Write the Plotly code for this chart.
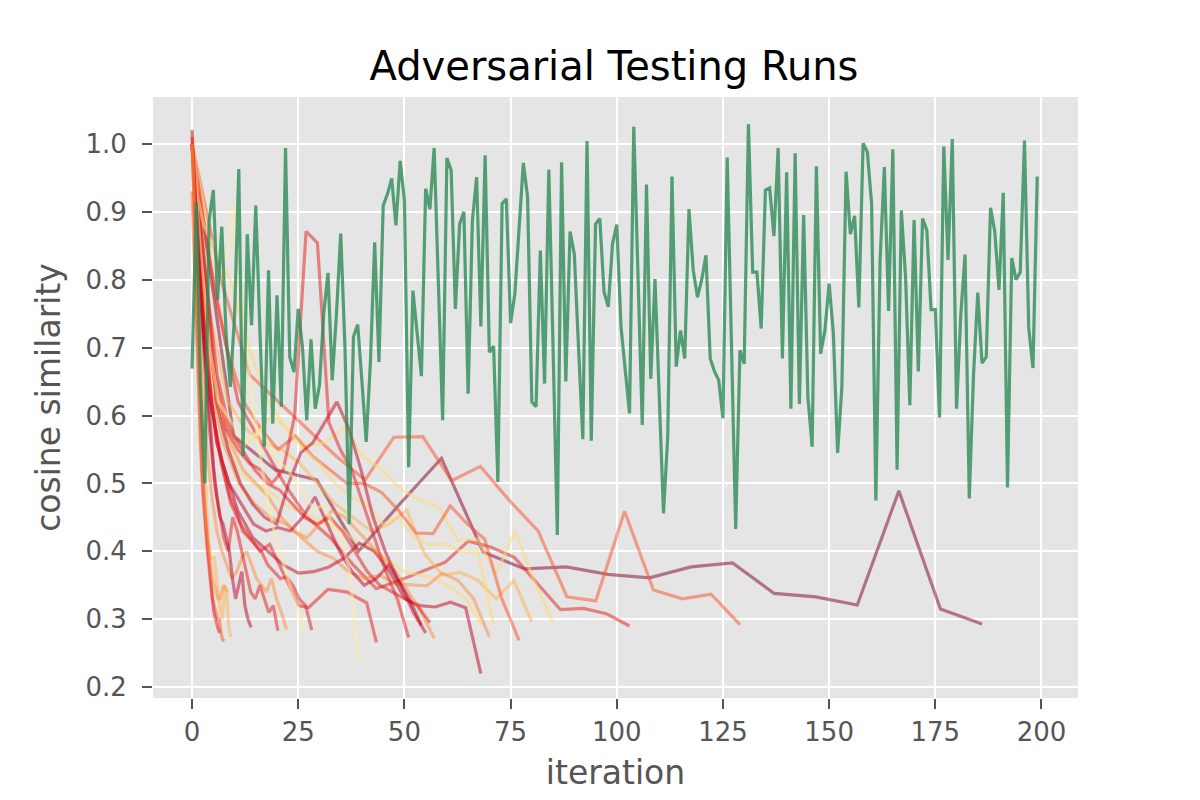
import numpy as np
import plotly.graph_objects as go

# --- Daten ---------------------------------------------------------------
# normale Testreihe (eine Messung je Iteration)
normal_iters = list(range(200))
normal_sim = [
    0.669, 0.914, 0.64, 0.50, 0.887, 0.932, 0.77, 0.878, 0.72, 0.642,
    0.746, 0.963, 0.54, 0.867, 0.733, 0.909, 0.72, 0.554, 0.814, 0.588,
    0.777, 0.613, 0.994, 0.686, 0.664, 0.757, 0.70, 0.593, 0.712, 0.61,
    0.645, 0.75, 0.81, 0.652, 0.75, 0.868, 0.70, 0.44, 0.716, 0.734,
    0.65, 0.561, 0.68, 0.855, 0.679, 0.909, 0.926, 0.949, 0.88, 0.975,
    0.917, 0.524, 0.784, 0.72, 0.658, 0.934, 0.904, 0.994, 0.78, 0.593,
    0.979, 0.961, 0.757, 0.882, 0.90, 0.632, 0.887, 0.951, 0.731, 0.983,
    0.693, 0.702, 0.502, 0.912, 0.919, 0.736, 0.779, 0.87, 0.972, 0.922,
    0.62, 0.613, 0.843, 0.647, 0.962, 0.70, 0.424, 0.973, 0.65, 0.871,
    0.838, 0.70, 0.565, 1.004, 0.563, 0.882, 0.89, 0.782, 0.76, 0.853,
    0.881, 0.73, 0.662, 0.603, 1.025, 0.80, 0.586, 0.94, 0.654, 0.801,
    0.62, 0.456, 0.569, 0.952, 0.672, 0.725, 0.684, 0.904, 0.814, 0.774,
    0.80, 0.836, 0.684, 0.665, 0.652, 0.596, 0.98, 0.72, 0.433, 0.696,
    0.676, 1.029, 0.811, 0.811, 0.728, 0.932, 0.935, 0.864, 0.994, 0.684,
    0.958, 0.61, 0.986, 0.617, 0.895, 0.627, 0.554, 0.967, 0.691, 0.725,
    0.794, 0.721, 0.545, 0.642, 0.959, 0.867, 0.894, 0.759, 1.001, 0.988,
    0.912, 0.475, 0.828, 0.966, 0.754, 0.992, 0.52, 0.902, 0.804, 0.615,
    0.888, 0.665, 0.89, 0.873, 0.756, 0.756, 0.597, 0.996, 0.829, 1.007,
    0.61, 0.748, 0.837, 0.478, 0.66, 0.781, 0.677, 0.686, 0.906, 0.871,
    0.785, 0.928, 0.494, 0.832, 0.80, 0.811, 1.005, 0.729, 0.67, 0.952,
]

# adversariale Läufe: letzte Iteration je Lauf, jeweils 20 gleichmäßig verteilte Messungen
run_last_iter = [186, 129, 103, 85, 80, 77, 71, 68, 70, 68, 57, 56, 55, 54, 51,
                 43.4, 39.2, 28.2, 26.2, 22.2, 20.2, 13.9, 9.1, 7.6, 6.5, 8.3]
run_sim = [
    [1.0, 0.57, 0.52, 0.505, 0.40, 0.47, 0.537, 0.399, 0.374, 0.377, 0.366, 0.361, 0.377, 0.383, 0.338, 0.333, 0.321, 0.489, 0.315, 0.293],
    [1.0, 0.80, 0.66, 0.62, 0.58, 0.54, 0.505, 0.568, 0.569, 0.504, 0.525, 0.475, 0.43, 0.333, 0.327, 0.459, 0.343, 0.33, 0.337, 0.292],
    [1.0, 0.78, 0.62, 0.56, 0.50, 0.45, 0.42, 0.38, 0.345, 0.357, 0.37, 0.384, 0.415, 0.406, 0.391, 0.352, 0.314, 0.316, 0.308, 0.29],
    [1.0, 0.85, 0.80, 0.70, 0.62, 0.58, 0.555, 0.56, 0.583, 0.539, 0.52, 0.491, 0.475, 0.465, 0.416, 0.418, 0.367, 0.43, 0.357, 0.296],
    [1.0, 0.75, 0.62, 0.58, 0.56, 0.55, 0.53, 0.50, 0.47, 0.45, 0.43, 0.44, 0.461, 0.396, 0.365, 0.369, 0.357, 0.33, 0.357, 0.296],
    [1.0, 0.83, 0.70, 0.62, 0.58, 0.55, 0.57, 0.54, 0.52, 0.50, 0.50, 0.487, 0.46, 0.427, 0.426, 0.467, 0.44, 0.418, 0.33, 0.269],
    [1.0, 0.72, 0.60, 0.55, 0.57, 0.60, 0.58, 0.55, 0.53, 0.50, 0.48, 0.47, 0.44, 0.45, 0.42, 0.41, 0.41, 0.40, 0.40, 0.293],
    [1.0, 0.70, 0.58, 0.52, 0.50, 0.49, 0.47, 0.46, 0.45, 0.44, 0.43, 0.41, 0.40, 0.385, 0.37, 0.365, 0.36, 0.347, 0.33, 0.294],
    [1.0, 0.66, 0.56, 0.50, 0.47, 0.45, 0.44, 0.42, 0.40, 0.39, 0.37, 0.36, 0.365, 0.352, 0.35, 0.349, 0.368, 0.357, 0.33, 0.274],
    [1.0, 0.64, 0.53, 0.46, 0.42, 0.40, 0.38, 0.368, 0.37, 0.377, 0.39, 0.412, 0.40, 0.37, 0.33, 0.32, 0.318, 0.325, 0.317, 0.22],
    [1.0, 0.74, 0.62, 0.56, 0.52, 0.50, 0.48, 0.45, 0.43, 0.42, 0.44, 0.46, 0.45, 0.43, 0.41, 0.39, 0.37, 0.34, 0.31, 0.272],
    [1.0, 0.82, 0.66, 0.58, 0.55, 0.52, 0.50, 0.49, 0.47, 0.45, 0.44, 0.45, 0.43, 0.40, 0.37, 0.35, 0.34, 0.33, 0.32, 0.295],
    [1.0, 0.70, 0.56, 0.50, 0.47, 0.44, 0.43, 0.435, 0.43, 0.45, 0.48, 0.44, 0.40, 0.37, 0.35, 0.36, 0.38, 0.35, 0.31, 0.28],
    [1.0, 0.80, 0.62, 0.55, 0.50, 0.47, 0.45, 0.44, 0.50, 0.545, 0.56, 0.59, 0.62, 0.58, 0.52, 0.45, 0.40, 0.36, 0.33, 0.291],
    [1.0, 0.84, 0.66, 0.58, 0.55, 0.53, 0.52, 0.50, 0.52, 0.60, 0.871, 0.854, 0.59, 0.55, 0.52, 0.47, 0.42, 0.37, 0.33, 0.273],
    [1.0, 0.80, 0.62, 0.53, 0.47, 0.44, 0.42, 0.40, 0.41, 0.38, 0.35, 0.32, 0.317, 0.33, 0.344, 0.342, 0.34, 0.332, 0.324, 0.266],
    [1.0, 0.84, 0.70, 0.62, 0.60, 0.58, 0.56, 0.57, 0.58, 0.55, 0.53, 0.52, 0.50, 0.48, 0.46, 0.47, 0.44, 0.42, 0.37, 0.237],
    [1.0, 0.85, 0.72, 0.63, 0.56, 0.52, 0.48, 0.46, 0.43, 0.42, 0.41, 0.40, 0.38, 0.37, 0.36, 0.362, 0.35, 0.33, 0.32, 0.284],
    [1.02, 0.92, 0.88, 0.86, 0.85, 0.84, 0.83, 0.91, 0.80, 0.72, 0.64, 0.58, 0.52, 0.47, 0.43, 0.40, 0.37, 0.34, 0.32, 0.283],
    [1.0, 0.82, 0.66, 0.55, 0.48, 0.43, 0.40, 0.38, 0.36, 0.37, 0.39, 0.40, 0.38, 0.36, 0.35, 0.34, 0.36, 0.33, 0.31, 0.285],
    [1.0, 0.88, 0.75, 0.65, 0.57, 0.50, 0.46, 0.42, 0.40, 0.45, 0.43, 0.40, 0.37, 0.34, 0.33, 0.35, 0.33, 0.31, 0.32, 0.283],
    [1.02, 0.92, 0.84, 0.76, 0.70, 0.63, 0.57, 0.52, 0.48, 0.45, 0.44, 0.42, 0.40, 0.36, 0.33, 0.35, 0.37, 0.32, 0.30, 0.288],
    [1.0, 0.93, 0.85, 0.76, 0.68, 0.60, 0.53, 0.47, 0.42, 0.39, 0.39, 0.39, 0.36, 0.33, 0.31, 0.30, 0.35, 0.34, 0.29, 0.274],
    [0.93, 0.85, 0.78, 0.70, 0.62, 0.55, 0.50, 0.46, 0.43, 0.40, 0.37, 0.35, 0.33, 0.32, 0.31, 0.30, 0.30, 0.28, 0.27, 0.268],
    [1.01, 0.95, 0.88, 0.80, 0.72, 0.65, 0.58, 0.52, 0.48, 0.45, 0.42, 0.40, 0.38, 0.35, 0.33, 0.31, 0.30, 0.29, 0.285, 0.28],
    [1.0, 0.90, 0.80, 0.70, 0.62, 0.55, 0.50, 0.46, 0.43, 0.40, 0.38, 0.36, 0.35, 0.34, 0.33, 0.33, 0.34, 0.35, 0.345, 0.34],
]

# Farben der Läufe (YlOrRd-Abstufungen)
RUN_COLORS = ["#800026", "#fc4e2a", "#e31a1c", "#fed976", "#feb24c", "#fc4e2a", "#fed976",
              "#fed976", "#fd8d3c", "#bd0026", "#fd8d3c", "#e31a1c", "#bd0026", "#bd0026",
              "#e31a1c", "#e31a1c", "#ffeda0", "#e31a1c", "#ffeda0", "#fd8d3c", "#e31a1c",
              "#bd0026", "#feb24c", "#fc4e2a", "#e31a1c", "#fd8d3c"]
RUN_ALPHA = 0.5
NORMAL_COLOR = "rgba(46,139,87,0.8)"  # seagreen
FONT = "DejaVu Sans"


def rgba(hex_color, alpha):
    h = hex_color.lstrip("#")
    r, g, b = (int(h[i:i + 2], 16) for i in (0, 2, 4))
    return f"rgba({r},{g},{b},{alpha})"


traces = []
for last, sims, color in zip(run_last_iter, run_sim, RUN_COLORS):
    traces.append(go.Scatter(
        x=np.linspace(0, last, len(sims)),
        y=sims,
        mode="lines",
        line=dict(color=rgba(color, RUN_ALPHA), width=3.2),
        showlegend=False,
        hoverinfo="skip",
    ))

traces.append(go.Scatter(
    x=normal_iters,
    y=normal_sim,
    mode="lines",
    line=dict(color=NORMAL_COLOR, width=3.2),
    showlegend=False,
))

axis_style = dict(
    showgrid=True,
    gridcolor="white",
    gridwidth=2,
    zeroline=False,
    showline=False,
    ticks="outside",
    ticklen=10,
    tickwidth=2,
    tickcolor="#555555",
    tickfont=dict(family=FONT, size=26, color="#555555"),
)

# die Seite hat ~8px Rand, daher Ränder entsprechend verschoben
fig = go.Figure(data=traces)
fig.update_layout(
    width=1200,
    height=800,
    paper_bgcolor="white",
    plot_bgcolor="#E5E5E5",
    margin=dict(l=145, r=130, t=89, b=110),
    title=dict(
        text="Adversarial Testing Runs",
        x=0.505, xanchor="center",
        y=1 - 58 / 800, yanchor="middle",
        font=dict(family=FONT, size=40, color="black"),
    ),
    xaxis=dict(
        axis_style,
        range=[-9.2, 208.6],
        tickvals=[0, 25, 50, 75, 100, 125, 150, 175, 200],
        ticklabelstandoff=1,
        title=dict(text="iteration", standoff=14,
                   font=dict(family=FONT, size=33, color="#555555")),
    ),
    yaxis=dict(
        axis_style,
        range=[0.184, 1.069],
        tickvals=[0.2, 0.3, 0.4, 0.5, 0.6, 0.7, 0.8, 0.9, 1.0],
        tickformat=".1f",
        ticklabelstandoff=10,
        title=dict(text="cosine similarity", standoff=14,
                   font=dict(family=FONT, size=33, color="#555555")),
    ),
)

fig.write_html("out.html")
